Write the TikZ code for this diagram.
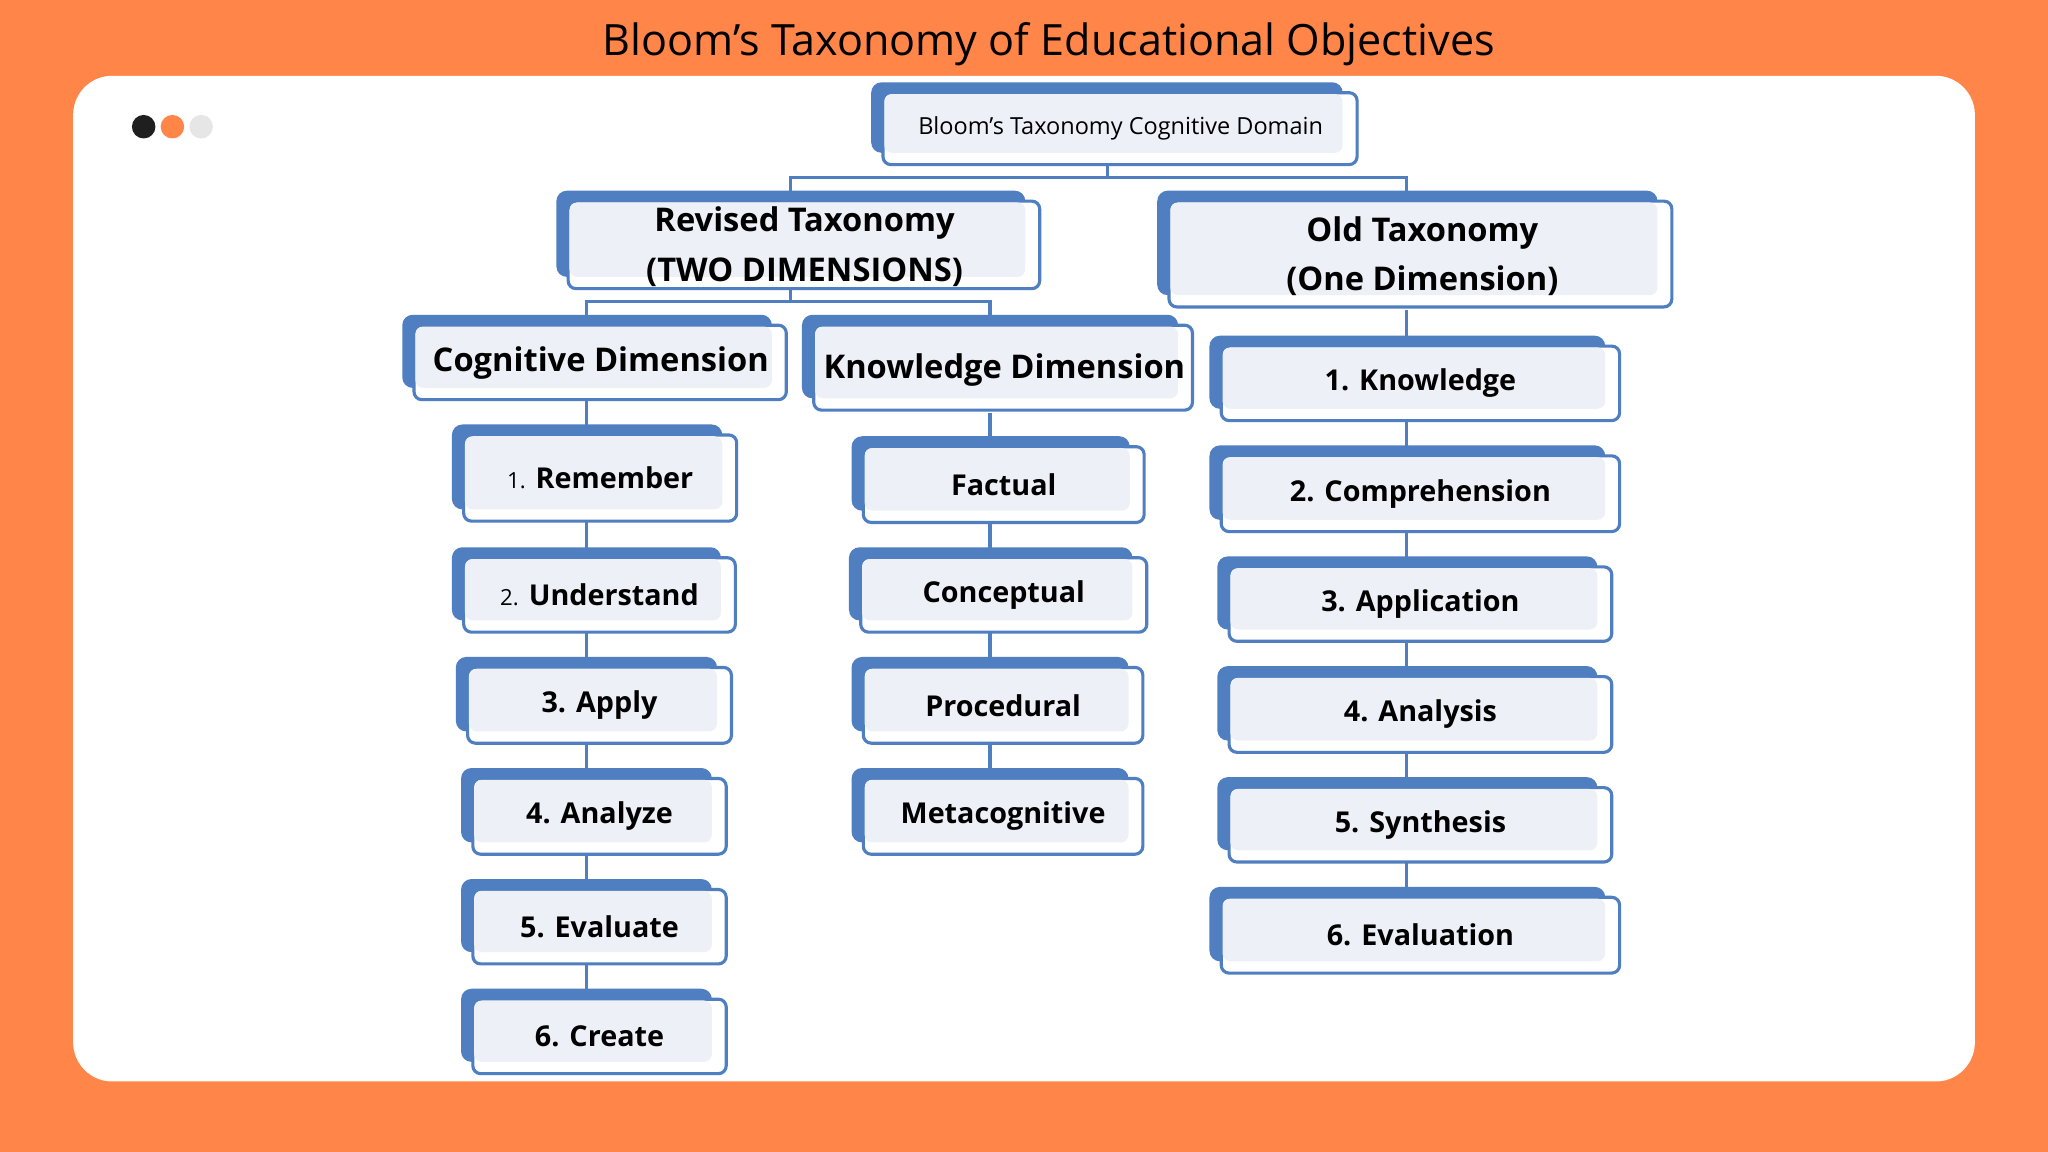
\documentclass[tikz,border=0pt]{standalone}
\usepackage{fontspec}
\setmainfont{Open Sans}
\definecolor{bgor}{HTML}{FF8549}
\definecolor{bblue}{HTML}{4F7FC1}
\definecolor{lfill}{HTML}{EDF1F7}
\definecolor{dotg}{HTML}{E6E6E6}
\tikzset{
  front/.style={draw=bblue,line width=1.2pt,rounded corners=3pt,inner sep=0pt},
  conn/.style={draw=bblue,line width=1.3pt},
  lbl/.style={font=\fontsize{11}{13}\selectfont\bfseries,text=black}
}
\newcommand{\bx}[6]{%
  \fill[bblue,rounded corners=4pt] (#2,#3) rectangle (#4,#5);
  \pgfmathsetmacro{\fxa}{#2+9}\pgfmathsetmacro{\fya}{#3+8}
  \pgfmathsetmacro{\fxb}{#4+11}\pgfmathsetmacro{\fyb}{#5+9}
  \pgfmathsetmacro{\cxx}{(\fxa+\fxb)/2}\pgfmathsetmacro{\cyy}{(\fya+\fyb)/2}
  \pgfmathsetmacro{\ww}{(\fxb-\fxa)*0.5}\pgfmathsetmacro{\hh}{(\fyb-\fya)*0.5}
  \node[front,fill=white,minimum width=\ww pt,minimum height=\hh pt] (#1) at (\cxx,\cyy) {};
  \fill[lfill,rounded corners=3pt] (\fxa+1,\fya+1) rectangle (#4,#5);
  \node[lbl,align=center] (#1t) at (\cxx,\cyy) {#6};
}
\begin{document}
\begin{tikzpicture}[x=0.5pt,y=-0.5pt]
\fill[bgor] (0,0) rectangle (1568,882);
\fill[white,rounded corners=15pt] (56,58) rectangle (1512,828);
\node[font=\fontsize{16.5}{18}\selectfont] (title) at (803,34) {Bloom's Taxonomy of Educational Objectives};
\fill[black!88] (110,97) circle (9);
\fill[bgor] (132,97) circle (9);
\fill[dotg] (154,97) circle (9);
% connectors
\draw[conn] (848,127) -- (848,136) coordinate (j1);
\draw[conn] (605,146) |- (j1) -| (1077,146);
\draw[conn] (605,222) -- (605,231) coordinate (j2);
\draw[conn] (449,241) |- (j2) -| (758,241);
\draw[conn] (449,307) -- (449,765);
\draw[conn] (758,316) -- (758,596);
\draw[conn] (1077,237) -- (1077,687);
% boxes
\bx{root}{667}{63}{1028}{117}{}
\node[font=\fontsize{9}{11}\selectfont] at (858,98) {Bloom's Taxonomy Cognitive Domain};
\bx{rev}{426}{146}{785}{212}{}
\node[lbl,font=\fontsize{12.5}{19}\selectfont\bfseries,align=center] at (616,189) {Revised Taxonomy\\(TWO DIMENSIONS)};
\bx{old}{886}{146}{1269}{226}{}
\node[lbl,font=\fontsize{12.5}{19}\selectfont\bfseries,align=center] at (1089,196) {Old Taxonomy\\(One Dimension)};
\bx{cog}{308}{241}{591}{297}{}
\node[lbl,font=\fontsize{12.5}{14}\selectfont\bfseries] at (460,278) {Cognitive Dimension};
\bx{kno}{614}{241}{902}{305}{}
\node[lbl,font=\fontsize{12.5}{14}\selectfont\bfseries] at (769,283) {Knowledge Dimension};
\bx{c1}{346}{325}{553}{390}{{\normalfont\fontsize{8.5}{10}\selectfont 1.} Remember}
\bx{c2}{346}{419}{552}{475}{{\normalfont\fontsize{8.5}{10}\selectfont 2.} Understand}
\bx{c3}{349}{503}{549}{560}{3. Apply}
\bx{c4}{353}{588}{545}{645}{4. Analyze}
\bx{c5}{353}{673}{545}{729}{5. Evaluate}
\bx{c6}{353}{757}{545}{813}{6. Create}
\bx{k1}{652}{334}{865}{391}{Factual}
\bx{k2}{650}{419}{867}{475}{Conceptual}
\bx{k3}{652}{503}{864}{560}{Procedural}
\bx{k4}{652}{588}{864}{645}{Metacognitive}
\bx{o1}{926}{257}{1229}{313}{1. Knowledge}
\bx{o2}{926}{341}{1229}{398}{2. Comprehension}
\bx{o3}{932}{426}{1223}{482}{3. Application}
\bx{o4}{932}{510}{1223}{567}{4. Analysis}
\bx{o5}{932}{595}{1223}{651}{5. Synthesis}
\bx{o6}{926}{679}{1229}{736}{6. Evaluation}
\end{tikzpicture}
\end{document}
